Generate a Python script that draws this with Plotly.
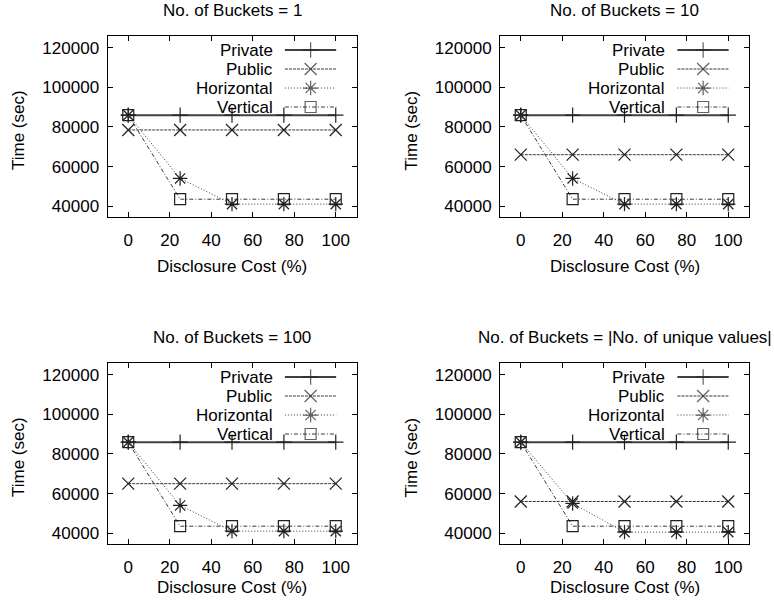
import plotly.graph_objects as go

# ---- data ----
disclosure_cost = [0, 25, 50, 75, 100]
panel_titles = ["No. of Buckets = 1", "No. of Buckets = 10",
                "No. of Buckets = 100", "No. of Buckets = |No. of unique values|"]
series_names = ["Private", "Public", "Horizontal", "Vertical"]

private_1 = [86000, 86000, 86000, 86000, 86000]
public_1 = [78500, 78500, 78500, 78500, 78500]
horizontal_1 = [86000, 54000, 41000, 41000, 41000]
vertical_1 = [86000, 43500, 43500, 43500, 43500]

private_10 = [86000, 86000, 86000, 86000, 86000]
public_10 = [66000, 66000, 66000, 66000, 66000]
horizontal_10 = [86000, 54000, 41000, 41000, 41000]
vertical_10 = [86000, 43500, 43500, 43500, 43500]

private_100 = [86000, 86000, 86000, 86000, 86000]
public_100 = [65000, 65000, 65000, 65000, 65000]
horizontal_100 = [86000, 54000, 41000, 41000, 41000]
vertical_100 = [86000, 43500, 43500, 43500, 43500]

private_u = [86000, 86000, 86000, 86000, 86000]
public_u = [56000, 56000, 56000, 56000, 56000]
horizontal_u = [86000, 55000, 40500, 40500, 40500]
vertical_u = [86000, 43500, 43500, 43500, 43500]

x_ticks = [0, 20, 40, 60, 80, 100]
y_ticks = [40000, 60000, 80000, 100000, 120000]
y_tick_labels = ["40000", "60000", "80000", "100000", "120000"]

panels = [
    (private_1, public_1, horizontal_1, vertical_1),
    (private_10, public_10, horizontal_10, vertical_10),
    (private_100, public_100, horizontal_100, vertical_100),
    (private_u, public_u, horizontal_u, vertical_u),
]

# ---- styling ----
W, H = 774, 608
FONT = "Liberation Sans, Arial, Helvetica, sans-serif"
FS = 17
X_RANGE = [-10, 110]
Y_RANGE = [34500, 126000]

# frame pixel boxes (left, right, top, bottom)
frames = [(107.5, 356.5, 36, 217), (500, 749, 36, 217),
          (107.5, 356.5, 363, 544), (500, 749, 363, 544)]
xtitle_offsets = [49, 49, 43, 43]

styles = [
    dict(line=dict(color="#404040", width=2, dash="solid"),
         marker=dict(symbol="cross-thin", size=11, line=dict(color="#202020", width=1.2))),
    dict(line=dict(color="#383838", width=1, dash="3px,1px"),
         marker=dict(symbol="x-thin", size=12, line=dict(color="#202020", width=1.2))),
    dict(line=dict(color="#383838", width=1, dash="1px,2px"),
         marker=dict(symbol="asterisk", size=12, line=dict(color="#202020", width=1.2))),
    dict(line=dict(color="#383838", width=1, dash="4px,2px,1px,2px"),
         marker=dict(symbol="square-open", size=11, color="#202020", line=dict(color="#202020", width=1.2))),
]

# legend placement (data units inside each panel)
leg_text_x = 70.5
leg_line_x = [75.5, 87.9, 100.2]
leg_rows_y = [118900, 109300, 99700, 90100]

fig = go.Figure()
layout = dict(width=W, height=H, margin=dict(l=0, r=0, t=0, b=0),
              paper_bgcolor="white", plot_bgcolor="white", showlegend=False,
              font=dict(family=FONT, size=FS, color="black"))
annotations = []

for i, (series, (l, r, t, b)) in enumerate(zip(panels, frames)):
    sfx = "" if i == 0 else str(i + 1)
    xa, ya = "x" + sfx, "y" + sfx
    for name, vals, st in zip(series_names, series, styles):
        fig.add_trace(go.Scatter(x=disclosure_cost, y=vals, mode="lines+markers", name=name,
                                 xaxis=xa, yaxis=ya, line=st["line"], marker=st["marker"],
                                 cliponaxis=False))
    # legend entries
    for name, ly, st in zip(series_names, leg_rows_y, styles):
        m = dict(st["marker"])
        m["size"] = [0, st["marker"]["size"], 0]
        fig.add_trace(go.Scatter(x=leg_line_x, y=[ly] * 3, mode="lines+markers",
                                 xaxis=xa, yaxis=ya, line=st["line"], marker=m,
                                 hoverinfo="skip"))
        annotations.append(dict(x=leg_text_x, y=ly, xref=xa, yref=ya, text=name,
                                showarrow=False, xanchor="right", yanchor="middle",
                                font=dict(family=FONT, size=FS, color="black")))
    axcommon = dict(showgrid=False, zeroline=False, showline=True, linecolor="black",
                    linewidth=1, mirror="allticks", ticks="inside", ticklen=5,
                    tickcolor="black", tickfont=dict(family=FONT, size=FS, color="black"))
    layout["xaxis" + sfx] = dict(axcommon, domain=[l / W, r / W], range=X_RANGE,
                                 tickvals=x_ticks, anchor=ya, ticklabelstandoff=8)
    layout["yaxis" + sfx] = dict(axcommon, domain=[1 - b / H, 1 - t / H], range=Y_RANGE,
                                 tickvals=y_ticks, ticktext=y_tick_labels, anchor=xa,
                                 ticklabelstandoff=4)
    cx = (l + r) / 2
    annotations.append(dict(x=cx / W, y=1 - (t - 26) / H, xref="paper", yref="paper",
                            text=panel_titles[i], showarrow=False, xanchor="center",
                            yanchor="middle", font=dict(family=FONT, size=FS, color="black")))
    annotations.append(dict(x=cx / W, y=1 - (b + xtitle_offsets[i]) / H, xref="paper", yref="paper",
                            text="Disclosure Cost (%)", showarrow=False, xanchor="center",
                            yanchor="middle", font=dict(family=FONT, size=FS, color="black")))
    annotations.append(dict(x=(l - 89) / W, y=1 - ((t + b) / 2 + 4) / H, xref="paper", yref="paper",
                            text="Time (sec)", showarrow=False, textangle=-90, xanchor="center",
                            yanchor="middle", font=dict(family=FONT, size=FS, color="black")))

layout["annotations"] = annotations
fig.update_layout(**layout)
fig.write_html("out.html", config={"displayModeBar": False},
               post_script="document.body.style.margin='0';document.body.style.overflow='hidden';")
